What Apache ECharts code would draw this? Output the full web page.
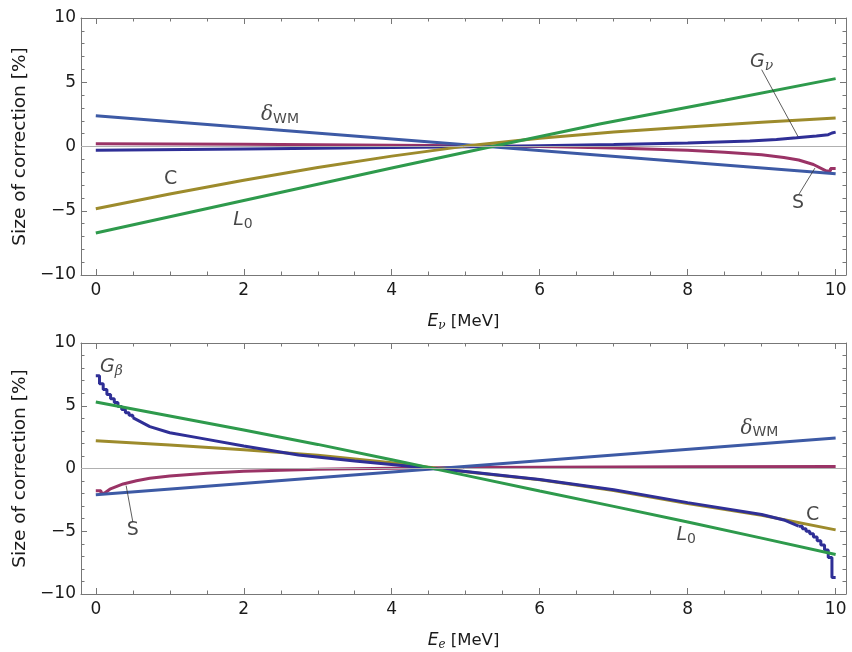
<!DOCTYPE html>
<html><head><meta charset="utf-8">
<script src="https://cdn.jsdelivr.net/npm/echarts@6/dist/echarts.min.js"></script>
<style>html,body{margin:0;padding:0;background:#fff}#c{width:852px;height:652px}</style>
</head><body><div id="c"></div>
<script>
// ---------- data ----------
const xMajorTicks = [0, 2, 4, 6, 8, 10];
const xMinorTicks = [0.5, 1, 1.5, 2.5, 3, 3.5, 4.5, 5, 5.5, 6.5, 7, 7.5, 8.5, 9, 9.5];
const yTickStep = 5;

// Top panel: E_nu
const topDeltaWM = [[0, 2.40], [5.3, 0.0], [10, -2.12]];
const topL0 = [[0, -6.73], [2, -4.20], [4, -1.68], [5.36, 0.0], [6.81, 1.75], [8.5, 3.60], [10, 5.28]];
const topC = [[0, -4.84], [1, -3.70], [2, -2.62], [3, -1.63], [4, -0.75], [5, 0.03], [6, 0.64], [7, 1.12], [8, 1.52], [9, 1.88], [10, 2.22]];
const topS = [[0, 0.22], [2, 0.18], [4, 0.10], [5, 0.05], [6, 0.0], [7, -0.12], [8, -0.30], [8.5, -0.45], [9, -0.65], [9.3, -0.85], [9.5, -1.05], [9.7, -1.40], [9.87, -1.90], [9.93, -1.90], [9.93, -1.72], [10, -1.72]];
const topG = [[0, -0.30], [2, -0.20], [4, -0.08], [5.4, 0.0], [7, 0.15], [8, 0.28], [8.84, 0.42], [9.2, 0.55], [9.47, 0.68], [9.74, 0.82], [9.9, 0.92], [9.95, 1.05], [10, 1.12]];

// Bottom panel: E_e
const botDeltaWM = [[0, -2.10], [10, 2.43]];
const botL0 = [[0, 5.30], [1, 4.18], [2, 3.06], [3, 1.92], [4, 0.70], [5, -0.55], [6, -1.80], [7, -3.02], [8, -4.26], [9, -5.55], [10, -6.85]];
const botC = [[0, 2.22], [1, 1.88], [2, 1.50], [3, 1.05], [4, 0.45], [5, -0.25], [6, -0.90], [7, -1.75], [8, -2.80], [9, -3.72], [10, -4.89]];
const botS = [[0, -1.78], [0.07, -1.78], [0.07, -2.00], [0.12, -1.95], [0.19, -1.65], [0.37, -1.23], [0.55, -0.97], [0.73, -0.78], [1, -0.60], [1.5, -0.38], [2, -0.22], [3, -0.06], [4, 0.02], [5, 0.07], [6, 0.10], [8, 0.14], [10, 0.16]];
const botGStart = [[0, 7.40], [0.05, 6.75], [0.1, 6.30], [0.15, 5.90], [0.2, 5.55], [0.25, 5.25], [0.3, 4.95], [0.35, 4.70], [0.4, 4.45], [0.45, 4.25], [0.5, 4.05]];
const botGMid = [[0.5, 4.05], [0.73, 3.34], [1, 2.85], [1.41, 2.42], [2, 1.80], [2.74, 1.08], [3.5, 0.60], [4.56, 0.0], [5, -0.24], [6, -0.88], [7, -1.70], [8, -2.72], [9, -3.66], [9.3, -4.10], [9.5, -4.60]];
const botGEnd = [[9.5, -4.60], [9.55, -4.80], [9.6, -5.00], [9.65, -5.20], [9.7, -5.45], [9.75, -5.75], [9.8, -6.10], [9.85, -6.50], [9.9, -7.10], [9.95, -8.68], [10, -8.68]];

// ---------- styles ----------
const COL = {
  dwm: '#3d5aa5',
  g: '#2f2f96',
  s: '#9a3366',
  c: '#9d8b2c',
  l0: '#2e9a4c'
};
const FONT = '"DejaVu Sans", "Liberation Sans", sans-serif';
const SERIF = '"DejaVu Serif", "Liberation Serif", serif';
const FRAME = '#777';
const TXT = '#1a1a1a';
const minus = v => String(v).replace('-', '\u2212');

const grids = [
  { left: 81, right: 6, top: 18, height: 257 },
  { left: 81, right: 6, top: 343, height: 255 }
];

const xAxes = [], yAxes = [];
const xNames = ['{i|E}{sub|ν} [MeV]', '{i|E}{sub|e} [MeV]'];
const nameRich = {
  i: { fontStyle: 'italic', fontSize: 17, fontFamily: FONT, color: TXT },
  sub: { fontStyle: 'italic', fontSize: 12, fontFamily: SERIF, color: TXT, padding: [9, 0, 0, 0] }
};
grids.forEach((g, gi) => {
  const base = { type: 'value', gridIndex: gi, min: -0.2, max: 10.14, splitLine: { show: false } };
  const line = { show: true, onZero: false, lineStyle: { color: FRAME, width: 1 } };
  xAxes.push(Object.assign({}, base, {
    position: 'bottom', axisLine: line,
    axisTick: { show: true, inside: true, length: 6, customValues: xMajorTicks, lineStyle: { color: FRAME } },
    axisLabel: { show: true, customValues: xMajorTicks, fontSize: 17, color: TXT, fontFamily: FONT, margin: 7 },
    name: xNames[gi], nameLocation: 'middle', nameGap: 36,
    nameTextStyle: { fontSize: 16.5, color: TXT, fontFamily: FONT, rich: nameRich }
  }));
  xAxes.push(Object.assign({}, base, {
    position: 'bottom', axisLine: { show: false, onZero: false },
    axisTick: { show: true, inside: true, length: 3.5, customValues: xMinorTicks, lineStyle: { color: FRAME } },
    axisLabel: { show: false }
  }));
  xAxes.push(Object.assign({}, base, {
    position: 'top', axisLine: line,
    axisTick: { show: true, inside: true, length: 6, customValues: xMajorTicks, lineStyle: { color: FRAME } },
    axisLabel: { show: false }
  }));
  xAxes.push(Object.assign({}, base, {
    position: 'top', axisLine: { show: false, onZero: false },
    axisTick: { show: true, inside: true, length: 3.5, customValues: xMinorTicks, lineStyle: { color: FRAME } },
    axisLabel: { show: false }
  }));
  const ybase = { type: 'value', gridIndex: gi, min: -10, max: 10, interval: yTickStep, splitLine: { show: false } };
  yAxes.push(Object.assign({}, ybase, {
    position: 'left', axisLine: line,
    axisTick: { show: true, inside: true, length: 6, lineStyle: { color: FRAME } },
    minorTick: { show: true, splitNumber: 5, length: 3.5, lineStyle: { color: FRAME } },
    axisLabel: { show: true, fontSize: 17, color: TXT, fontFamily: FONT, margin: 5, formatter: minus },
    name: 'Size of correction [%]', nameLocation: 'middle', nameGap: 50,
    nameTextStyle: { fontSize: 18.5, color: TXT, fontFamily: FONT }
  }));
  yAxes.push(Object.assign({}, ybase, {
    position: 'right', axisLine: line,
    axisTick: { show: true, inside: true, length: 6, lineStyle: { color: FRAME } },
    minorTick: { show: true, splitNumber: 5, length: 3.5, lineStyle: { color: FRAME } },
    axisLabel: { show: false }
  }));
});

const X = [0, 4], Y = [0, 2];
function curve(gi, data, color, step) {
  return {
    type: 'line', xAxisIndex: X[gi], yAxisIndex: Y[gi], data: data,
    showSymbol: false, symbol: 'none', step: step || false, silent: true,
    lineStyle: { color: color, width: 3 }, z: 3, animation: false
  };
}
function zeroLine(gi) {
  return {
    type: 'line', xAxisIndex: X[gi], yAxisIndex: Y[gi], data: [], silent: true, z: 1,
    markLine: { silent: true, symbol: 'none', label: { show: false }, animation: false,
      lineStyle: { color: '#b0b0b0', width: 1, type: 'solid' }, data: [{ yAxis: 0 }] }
  };
}
function leader(gi, p1, p2) {
  return {
    type: 'line', xAxisIndex: X[gi], yAxisIndex: Y[gi], data: [p1, p2], symbol: 'none', silent: true,
    lineStyle: { color: '#333', width: 0.8 }, z: 4, animation: false
  };
}
const labRich = {
  i: { fontStyle: 'italic', fontSize: 19, fontFamily: FONT, color: TXT },
  r: { fontSize: 19, fontFamily: FONT, color: TXT },
  gi: { fontStyle: 'italic', fontSize: 20, fontFamily: SERIF, color: TXT },
  sub: { fontSize: 14, fontFamily: FONT, color: TXT, padding: [9, 0, 0, 0] },
  gsub: { fontStyle: 'italic', fontSize: 14, fontFamily: SERIF, color: TXT, padding: [9, 0, 0, 0] }
};
function label(gi, pos, text) {
  return {
    type: 'scatter', xAxisIndex: X[gi], yAxisIndex: Y[gi], data: [pos], symbolSize: 1, silent: true,
    itemStyle: { color: 'rgba(0,0,0,0)' }, z: 5, animation: false,
    label: { show: true, position: 'inside', formatter: text, rich: labRich }
  };
}

const series = [
  zeroLine(0), zeroLine(1),
  curve(0, topS, COL.s), curve(0, topG, COL.g), curve(0, topDeltaWM, COL.dwm), curve(0, topC, COL.c), curve(0, topL0, COL.l0),
  curve(1, botS, COL.s), curve(1, botDeltaWM, COL.dwm), curve(1, botC, COL.c), curve(1, botGStart, COL.g, 'end'), curve(1, botGMid, COL.g), curve(1, botGEnd, COL.g, 'end'), curve(1, botL0, COL.l0),
  leader(0, [9.0, 5.98], [9.49, 0.79]),
  leader(0, [9.5, -3.75], [9.72, -1.68]),
  leader(1, [0.41, -1.36], [0.5, -4.24]),
  label(0, [2.49, 2.45], '{gi|δ}{sub|WM}'),
  label(0, [1.01, -2.57], '{r|C}'),
  label(0, [1.99, -5.7], '{i|L}{sub|0}'),
  label(0, [9.0, 6.6], '{i|G}{gsub|ν}'),
  label(0, [9.49, -4.4], '{r|S}'),
  label(1, [0.21, 8.1], '{i|G}{gsub|β}'),
  label(1, [0.5, -4.9], '{r|S}'),
  label(1, [8.97, 3.2], '{gi|δ}{sub|WM}'),
  label(1, [9.69, -3.72], '{r|C}'),
  label(1, [7.98, -5.29], '{i|L}{sub|0}')
];

const chart = echarts.init(document.getElementById('c'), null, { renderer: 'canvas' });
chart.setOption({
  animation: false,
  backgroundColor: '#fff',
  grid: grids,
  xAxis: xAxes,
  yAxis: yAxes,
  series: series
});
</script>
</body></html>
